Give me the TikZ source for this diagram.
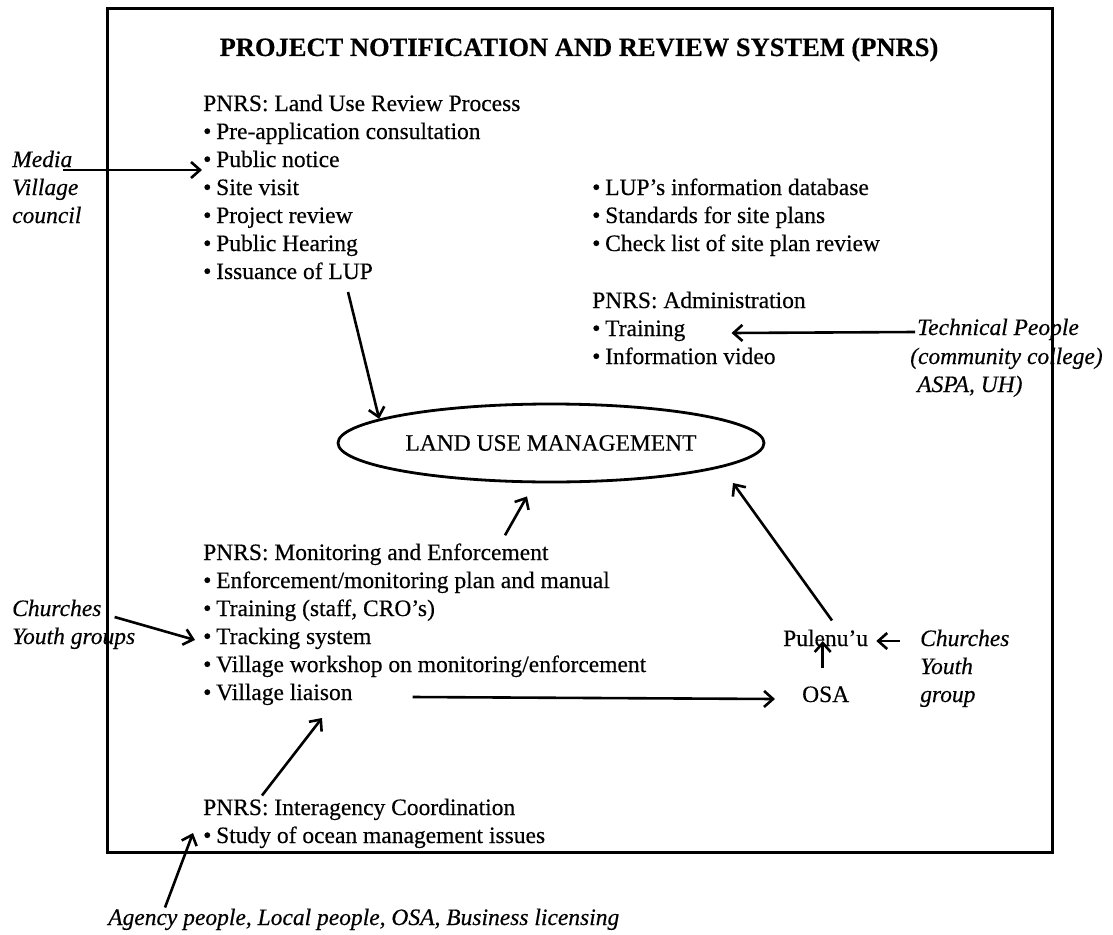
\documentclass[tikz,border=0pt]{standalone}
\usepackage{fontspec}
\setmainfont{Liberation Serif}[FakeBold=0.35]
\usetikzlibrary{arrows.meta,shapes.geometric,calc}
\newcommand{\bodyfont}{\fontsize{23.5}{28}\selectfont}
\newcommand{\headfont}{\fontsize{26.5}{30}\selectfont\bfseries}
\newcommand{\bul}{\makebox[13pt][l]{\textbullet}}
\begin{document}
\begin{tikzpicture}[x=1pt,y=-1pt,
  txt/.style={anchor=base west, inner sep=0pt, font=\bodyfont},
  lbl/.style={anchor=base west, inner sep=0pt, font=\bodyfont\itshape},
  arr/.style={line width=2.6pt, -{Straight Barb[length=9pt,width=16pt,line width=2.6pt]}},
  frame/.style={line width=3pt}]
\useasboundingbox (0,0) rectangle (1113,934);
\fill[white] (0,0) rectangle (1113,934);

% outer frame
\draw[frame] (107,9) rectangle (1052,852);

% title
\node[anchor=base, inner sep=0pt, font=\headfont] (title) at (579,56)
  {PROJECT NOTIFICATION AND REVIEW SYSTEM (PNRS)};

% land use review process
\node[txt] (lurhead) at (203,111) {PNRS: Land Use Review Process};
\node[txt] (preapp)  at (203,139) {\bul Pre-application consultation};
\node[txt] (pubnot)  at (203,167) {\bul Public notice};
\node[txt] (site)    at (203,195) {\bul Site visit};
\node[txt] (projrev) at (203,223) {\bul Project review};
\node[txt] (hearing) at (203,251) {\bul Public Hearing};
\node[txt] (issue)   at (203,279) {\bul Issuance of LUP};

% supporting tools
\node[txt] (lupdb) at (592,195) {\bul LUP’s information database};
\node[txt] (stds)  at (592,223) {\bul Standards for site plans};
\node[txt] (check) at (592,251) {\bul Check list of site plan review};

% administration
\node[txt] (adminhead) at (592,308) {PNRS: Administration};
\node[txt] (training)  at (592,336) {\bul Training};
\node[txt] (video)     at (592,364) {\bul Information video};

% central goal
\node[draw, ellipse, line width=2.8pt, minimum width=426pt, minimum height=78pt,
      inner sep=0pt, font=\bodyfont] (lum) at (551,443) {LAND USE MANAGEMENT};

% monitoring and enforcement
\node[txt] (monhead)  at (203,560) {PNRS: Monitoring and Enforcement};
\node[txt] (enfplan)  at (203,588) {\bul Enforcement/monitoring plan and manual};
\node[txt] (montrain) at (203,616) {\bul Training (staff, CRO’s)};
\node[txt] (tracking) at (203,644) {\bul Tracking system};
\node[txt] (workshop) at (203,672) {\bul Village workshop on monitoring/enforcement};
\node[txt] (liaison)  at (203,700) {\bul Village liaison};

% interagency coordination
\node[txt] (iahead) at (203,815) {PNRS: Interagency Coordination};
\node[txt] (ocean)  at (203,843) {\bul Study of ocean management issues};

% village level
\node[txt] (pulenuu) at (783,646) {Pulenu’u};
\node[txt] (osa)     at (802,702) {OSA};

% participants
\node[lbl] (media)   at (12,167) {Media};
\node[lbl] (village) at (12,195) {Village};
\node[lbl] (council) at (12,223) {council};
\node[lbl] (techppl) at (917,335) {Technical People};
\node[lbl] (commcol) at (910,364) {(community college)};
\node[lbl] (aspa)    at (917,392) {ASPA, UH)};
\node[lbl] (churchL) at (12,616) {Churches};
\node[lbl] (youthL)  at (12,644) {Youth groups};
\node[lbl] (churchR) at (920,646) {Churches};
\node[lbl] (youthR)  at (920,674) {Youth};
\node[lbl] (groupR)  at (920,702) {group};
\node[lbl] (agency)  at (108,925) {Agency people, Local people, OSA, Business licensing};

% connectors
\draw[arr] ($(media.base east)+(-9,3)$) -- ($(pubnot.base west)+(-1,3)$);
\draw[arr] ($(issue.base east)+(-25,13)$) -- (lum.172);
\draw[arr] ($(monhead.north west)+(302,-8)$) -- ($(lum.south)+(-24,13)$);
\draw[arr] ($(pulenuu.north west)+(49,-9)$) -- ($(lum.center)+(182,40)$);
\draw[arr] ($(osa.north)+(-3,-18)$) -- ($(osa.north |- pulenuu.base)+(-3,-5)$);
\draw[arr] ($(churchR.base west)+(-20,-5)$) -- ($(pulenuu.base east)+(8,-5)$);
\draw[arr] ($(liaison.base east)+(60,-3)$) -- ($(osa.base west)+(-27,-3)$);
\draw[arr] ($(iahead.north west)+(59,-3)$) -- ($(liaison.base west)+(119,18)$);
\draw[arr] ($(agency.north west)+(57,-1)$) -- ($(ocean.base west)+(-10,-10)$);
\draw[arr] ($(churchL.base east)+(13,1)$) -- ($(tracking.base west)+(-8,-4)$);
\draw[arr] ($(techppl.base west)+(-2,-3)$) -- ($(training.base east)+(46,-3)$);
\end{tikzpicture}
\end{document}
